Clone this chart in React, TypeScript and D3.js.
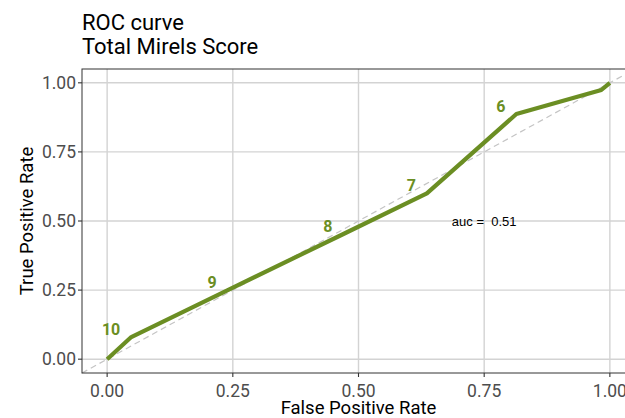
import React from "react";
import * as d3 from "d3";

// ROC points (false positive rate, true positive rate)
const fpr = [0, 0.048, 0.24, 0.47, 0.636, 0.814, 0.983, 1];
const tpr = [0, 0.08, 0.25, 0.453, 0.6, 0.887, 0.974, 1];
// cutoff labels shown at some points (index into the arrays above)
const cutLabels = ["", "10", "9", "8", "7", "6", "", ""];
const ticks = [0, 0.25, 0.5, 0.75, 1];
const tickLabels = ["0.00", "0.25", "0.50", "0.75", "1.00"];
const aucText = "auc =  0.51";

const W = 625;
const H = 418;
const margin = { top: 69, right: -10, bottom: 45, left: 82 };
const green = "#6b8e23";

export default function App() {
  const x = d3.scaleLinear().domain([-0.05, 1.05]).range([margin.left, W - margin.right]);
  const y = d3.scaleLinear().domain([-0.05, 1.05]).range([H - margin.bottom, margin.top]);

  const pts: [number, number][] = fpr.map((d, i) => [d, tpr[i]]);
  const line = d3.line<[number, number]>().x(d => x(d[0])).y(d => y(d[1]));

  const x0 = x(-0.05), x1 = x(1.05), y0 = y(-0.05), y1 = y(1.05);
  const font = "Roboto, sans-serif";

  return (
    <svg width={W} height={H} style={{ position: "absolute", left: 0, top: 0, background: "#fff" }}>
      <rect x={0} y={0} width={W} height={H} fill="#fff" />
      {/* grid */}
      {ticks.map(t => (
        <g key={"g" + t}>
          <line x1={x(t)} x2={x(t)} y1={y1} y2={y0} stroke="#d3d3d3" strokeWidth={1.4} />
          <line x1={x0} x2={x1} y1={y(t)} y2={y(t)} stroke="#d3d3d3" strokeWidth={1.4} />
        </g>
      ))}
      {/* diagonal reference */}
      <line x1={x(-0.05)} y1={y(-0.05)} x2={x(1.05)} y2={y(1.05)} stroke="#c4c4c4"
        strokeWidth={1.2} strokeDasharray="6,4" />
      {/* roc curve */}
      <path d={line(pts) || ""} fill="none" stroke={green} strokeWidth={4.2}
        strokeLinejoin="round" strokeLinecap="butt" />
      {pts.map((d, i) => cutLabels[i] ? (
        <text key={"c" + i} x={x(d[0]) - 11} y={y(d[1]) - 2} textAnchor="end"
          fontFamily={font} fontWeight={700} fontSize={16} fill={green}>{cutLabels[i]}</text>
      ) : null)}
      <text x={x(0.75)} y={y(0.5)} dy="0.35em" textAnchor="middle" fontFamily="'Liberation Sans', Arial, sans-serif"
        fontSize={13} fill="#000" style={{ whiteSpace: "pre" }}>{aucText}</text>
      {/* panel border */}
      <rect x={x0} y={y1} width={x1 - x0} height={y0 - y1} fill="none" stroke="#333" strokeWidth={1} />
      {/* axes */}
      {ticks.map((t, i) => (
        <g key={"t" + t}>
          <line x1={x(t)} x2={x(t)} y1={y0} y2={y0 + 4} stroke="#333" strokeWidth={1.1} />
          <text x={x(t)} y={y0 + 24} textAnchor="middle" fontFamily={font} fontSize={17.5} fill="#4d4d4d">{tickLabels[i]}</text>
          <line x1={x0 - 4} x2={x0} y1={y(t)} y2={y(t)} stroke="#333" strokeWidth={1.1} />
          <text x={x0 - 6} y={y(t)} dy="0.36em" textAnchor="end" fontFamily={font} fontSize={17.5} fill="#4d4d4d">{tickLabels[i]}</text>
        </g>
      ))}
      <text x={x(0.5)} y={414} textAnchor="middle" fontFamily={font} fontSize={18.5} fill="#000">False Positive Rate</text>
      <text transform={`translate(33,${(y0 + y1) / 2}) rotate(-90)`} textAnchor="middle" fontFamily={font}
        fontSize={18.5} fill="#000">True Positive Rate</text>
      <text x={margin.left} y={30} fontFamily={font} fontSize={22} fill="#000">ROC curve</text>
      <text x={margin.left} y={54} fontFamily={font} fontSize={22} fill="#000">Total Mirels Score</text>
    </svg>
  );
}
